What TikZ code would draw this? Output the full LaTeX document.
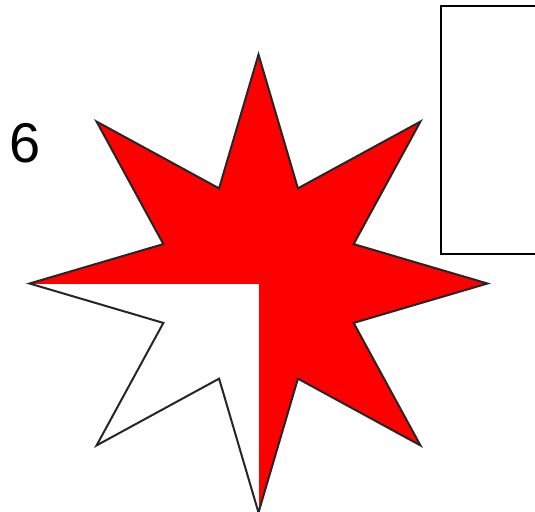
\documentclass[tikz,border=0pt]{standalone}
\usepackage{fontspec}
\setmainfont{Liberation Sans}
\begin{document}
\begin{tikzpicture}[x=1pt,y=-1pt,
  outline/.style={draw=black!85,line width=2pt,line join=miter},
  boxstyle/.style={draw=black,line width=2pt}]
\useasboundingbox (0,0) rectangle (535,511);
\coordinate (c) at (258.5,283.5);
\fill[red] (c)
  +(0:229) -- +(22.5:103) -- +(45:229) -- +(67.5:103) --
  +(90:229) -- +(112.5:103) -- +(135:229) -- +(157.5:103) --
  +(180:229) -- +(202.5:103) -- +(225:229) -- +(247.5:103) --
  +(270:229) -- +(292.5:103) -- +(315:229) -- +(337.5:103) -- cycle;
\fill[white] (c) rectangle (20,520);
\draw[outline] (c)
  +(0:229) -- +(22.5:103) -- +(45:229) -- +(67.5:103) --
  +(90:229) -- +(112.5:103) -- +(135:229) -- +(157.5:103) --
  +(180:229) -- +(202.5:103) -- +(225:229) -- +(247.5:103) --
  +(270:229) -- +(292.5:103) -- +(315:229) -- +(337.5:103) -- cycle;
\node[boxstyle,anchor=north west,minimum width=110pt,minimum height=248pt,inner sep=0pt] (box) at (440,5) {};
\node[font=\fontsize{56}{60}\selectfont,inner sep=0pt] (label) at (25.5,143) {6};
\end{tikzpicture}
\end{document}
